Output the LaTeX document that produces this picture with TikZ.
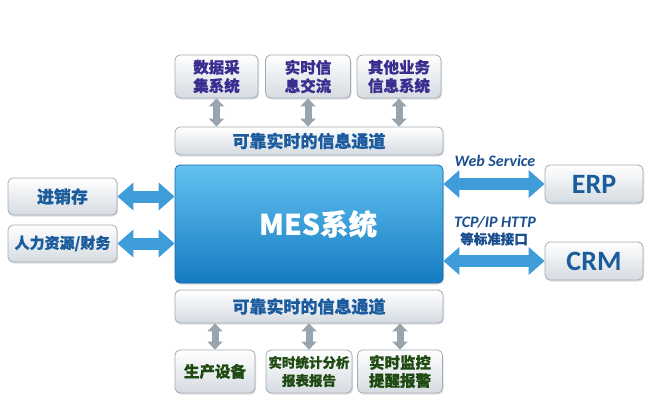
\documentclass[tikz,border=0pt]{standalone}
\usepackage{fontspec}
\newfontfamily\cjk{Noto Sans CJK SC}[BoldFeatures={FakeBold=0.6}]
\newfontfamily\lat{Carlito}
\usetikzlibrary{arrows.meta,shadows}
\definecolor{topc}{HTML}{3A2D8F}
\definecolor{chc}{HTML}{1C5C9E}
\definecolor{sidec}{HTML}{1B5D9C}
\definecolor{botc}{HTML}{1F4A12}
\definecolor{boxline}{HTML}{A3ACB5}
\definecolor{boxbot}{HTML}{D5DBE1}
\definecolor{mestop}{HTML}{62C2F0}
\definecolor{mesbot}{HTML}{157BC2}
\definecolor{mesline}{HTML}{1A6AA8}
\definecolor{varrow}{HTML}{98A4AE}
\definecolor{harrow}{HTML}{3E9DD9}
\definecolor{labc}{HTML}{1A4F8F}
\begin{document}
\begin{tikzpicture}[x=1pt,y=-1pt,
  box/.style={draw=boxline, line width=0.8pt, rounded corners=5pt, top color=white, bottom color=boxbot,
    inner sep=0pt, align=center, drop shadow={opacity=0.25, shadow xshift=1pt, shadow yshift=-1.5pt}},
  topbox/.style={box, minimum height=43pt, text=topc, font=\cjk\bfseries\fontsize{15.5}{18.5}\selectfont},
  botbox/.style={box, minimum height=43pt, text=botc, font=\cjk\bfseries\fontsize{15.5}{18}\selectfont},
  chan/.style={box, minimum width=268pt, text=chc, font=\cjk\bfseries\fontsize{17}{20}\selectfont},
  sidebox/.style={box, minimum width=109pt, minimum height=37pt, text=sidec, font=\cjk\bfseries\fontsize{17}{20}\selectfont},
  extbox/.style={box, minimum width=98pt, minimum height=38pt, text=sidec, font=\lat\bfseries\fontsize{28}{30}\selectfont},
  varr/.style={draw=varrow, line width=7pt, {Triangle[width=15pt,length=8pt]}-{Triangle[width=15pt,length=8pt]}},
  harr/.style={draw=harrow, line width=12pt, {Triangle[width=27pt,length=16pt]}-{Triangle[width=27pt,length=16pt]}},
  lab/.style={text=labc, inner sep=0pt, font=\lat\bfseries\itshape\fontsize{16}{18}\selectfont}
]
\useasboundingbox (0,0) rectangle (652,407);

% top boxes
\node[topbox, minimum width=83pt] (d1) at (216.5,76.5) {数据采\\集系统};
\node[topbox, minimum width=85pt] (d2) at (308,76.5) {实时信\\息交流};
\node[topbox, minimum width=84pt] (d3) at (399,76.5) {其他业务\\信息系统};
\node[chan, minimum height=28pt] (ch1) at (309,141) {可靠实时的信息通道};

% MES
\node[draw=mesline, line width=0.8pt, rounded corners=5pt, top color=mestop, bottom color=mesbot,
  minimum width=268pt, minimum height=118pt, text=white, inner sep=0pt,
  font=\cjk\bfseries\fontsize{28.5}{32}\selectfont,
  drop shadow={opacity=0.3, shadow xshift=1pt, shadow yshift=-1.5pt}] (mes) at (309,224) {\hspace*{18pt}MES系统};

% bottom
\node[chan, minimum height=33pt] (ch2) at (309,306.5) {可靠实时的信息通道};
\node[botbox, minimum width=80pt] (b1) at (215,371.5) {生产设备};
\node[botbox, minimum width=86pt, font=\cjk\bfseries\fontsize{13.5}{18}\selectfont] (b2) at (309,371.5) {实时统计分析\\报表报告};
\node[botbox, minimum width=85pt] (b3) at (400,371.5) {实时监控\\提醒报警};

% left
\node[sidebox] (l1) at (62.5,196.5) {进销存};
\node[sidebox, font=\cjk\bfseries\fontsize{15}{18}\selectfont] (l2) at (62.5,243.5) {人力资源/财务};

% right
\node[extbox] (erp) at (594,184) {ERP};
\node[extbox] (crm) at (594,261) {CRM};

% labels
\node[lab] (w) at (495,161) {Web Service};
\node[lab] (t) at (495,222) {TCP/IP HTTP};
\node[lab, font=\cjk\bfseries\fontsize{13.5}{15}\selectfont] (s) at (494,239) {等标准接口};

% vertical arrows
\foreach \n in {d1,d2,d3}{
  \draw[varr] (\n.south) -- (\n.south |- ch1.north);
}
\foreach \n in {b1,b2,b3}{
  \draw[varr] (\n.north |- ch2.south) -- (\n.north);
}
% horizontal arrows
\draw[harr] (l1.east) -- (l1.east -| mes.west);
\draw[harr] (l2.east) -- (l2.east -| mes.west);
\draw[harr] (erp.west -| mes.east) -- (erp.west);
\draw[harr] (crm.west -| mes.east) -- (crm.west);
\end{tikzpicture}
\end{document}
